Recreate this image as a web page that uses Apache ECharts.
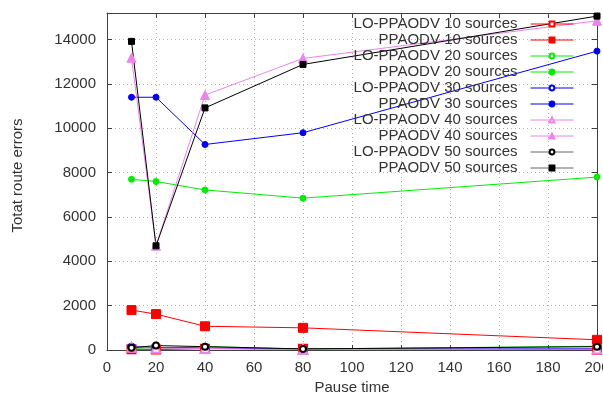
<!DOCTYPE html>
<html>
<head>
<meta charset="utf-8">
<script src="https://cdn.jsdelivr.net/npm/echarts@6/dist/echarts.min.js"></script>
<style>
html,body{margin:0;padding:0;background:#fff;}
#chart{width:603px;height:394px;}
</style>
</head>
<body>
<div id="chart"></div>
<script>
const pauseTimes = [10, 20, 40, 80, 200];
const xTicks = [0, 20, 40, 60, 80, 100, 120, 140, 160, 180, 200];
const yTicks = [0, 2000, 4000, 6000, 8000, 10000, 12000, 14000];

const lo10 = [30, 20, 60, 60, 10];
const pp10 = [1800, 1620, 1070, 1000, 460];
const lo20 = [60, 40, 160, 40, 170];
const pp20 = [7700, 7600, 7220, 6850, 7800];
const lo30 = [150, 110, 90, 30, 60];
const pp30 = [11400, 11400, 9270, 9800, 13480];
const lo40 = [120, 80, 70, 20, 40];
const pp40 = [13180, 4700, 11500, 13150, 14850];
const lo50 = [100, 200, 150, 50, 150];
const pp50 = [13920, 4700, 10920, 12880, 15060];

const seriesNames = [
  'LO-PPAODV 10 sources', 'PPAODV 10 sources',
  'LO-PPAODV 20 sources', 'PPAODV 20 sources',
  'LO-PPAODV 30 sources', 'PPAODV 30 sources',
  'LO-PPAODV 40 sources', 'PPAODV 40 sources',
  'LO-PPAODV 50 sources', 'PPAODV 50 sources'
];
const seriesValues = [lo10, pp10, lo20, pp20, lo30, pp30, lo40, pp40, lo50, pp50];
const seriesColors = ['#ff0000', '#ff0000', '#00ee00', '#00ee00', '#0000ff', '#0000ff', '#ee82ee', '#ee82ee', '#000000', '#000000'];
const legendLineColors = ['#ff0000', '#ff0000', '#00ee00', '#00ee00', '#0000ff', '#0000ff', '#ee82ee', '#ee82ee', '#666666', '#666666'];
const seriesSymbols = ['emptyRect', 'rect', 'emptyCircle', 'circle', 'emptyCircle', 'circle', 'emptyTriangle', 'triangle', 'emptyCircle', 'rect'];
const seriesSymbolSizes = [8, 9, 5, 6, 6, 6, 9, 9, 6, 6];

const FONT = 'Liberation Sans';
const TXT = '#333333';
const FRAME = '#404040';

const chart = echarts.init(document.getElementById('chart'), null, {renderer: 'canvas'});

const series = seriesNames.map((name, i) => ({
  name: name,
  type: 'line',
  data: pauseTimes.map((x, j) => [x, seriesValues[i][j]]),
  symbol: seriesSymbols[i],
  symbolSize: seriesSymbolSizes[i],
  showAllSymbol: true,
  color: seriesColors[i],
  itemStyle: {color: seriesColors[i], borderColor: seriesColors[i], borderWidth: 1},
  lineStyle: {color: seriesColors[i], width: 1},
  animation: false
}));

const frameLine = {show: true, onZero: false, lineStyle: {color: FRAME, width: 1}};
const tick = {show: true, inside: true, length: 5, lineStyle: {color: FRAME}};
const dotted = {show: true, lineStyle: {color: '#b0b0b0', type: [1, 3], width: 1}};

const option = {
  animation: false,
  backgroundColor: '#ffffff',
  textStyle: {fontFamily: FONT},
  grid: {
    left: 107, right: 6, top: 13, bottom: 44,
    outerBoundsMode: 'none',
    containLabel: false
  },
  legend: {
    orient: 'vertical',
    right: 29,
    top: 16,
    padding: 0,
    itemGap: 0,
    itemWidth: 43,
    itemHeight: 6,
    align: 'right',
    data: seriesNames.map((n, i) => ({name: n, lineStyle: {color: legendLineColors[i], width: 1}})),
    textStyle: {
      fontFamily: FONT, fontSize: 15, color: TXT,
      width: 175, align: 'right', lineHeight: 16, padding: [0, 8, 0, 0]
    }
  },
  xAxis: [{
    type: 'value',
    min: xTicks[0], max: xTicks[xTicks.length - 1], interval: 20,
    name: 'Pause time',
    nameLocation: 'middle',
    nameGap: 30,
    nameTextStyle: {fontFamily: FONT, fontSize: 15, color: TXT},
    axisLine: frameLine,
    axisTick: tick,
    axisLabel: {fontFamily: FONT, fontSize: 15, color: TXT, margin: 10},
    splitLine: dotted
  }, {
    type: 'value', position: 'top',
    min: xTicks[0], max: xTicks[xTicks.length - 1], interval: 20,
    axisLine: frameLine,
    axisTick: tick,
    axisLabel: {show: false},
    splitLine: {show: false}
  }],
  yAxis: [{
    type: 'value',
    min: yTicks[0], max: 15200, interval: 2000,
    name: 'Totat route errors',
    nameLocation: 'middle',
    nameGap: 82,
    nameTextStyle: {fontFamily: FONT, fontSize: 15, color: TXT, padding: [0, 0, 0, 12]},
    axisLine: frameLine,
    axisTick: tick,
    axisLabel: {
      fontFamily: FONT, fontSize: 15, color: TXT, margin: 11,
      showMaxLabel: false,
      formatter: v => (yTicks.indexOf(v) >= 0 ? String(v) : '')
    },
    splitLine: dotted
  }, {
    type: 'value', position: 'right',
    min: yTicks[0], max: 15200, interval: 2000,
    axisLine: frameLine,
    axisTick: tick,
    axisLabel: {show: false},
    splitLine: {show: false}
  }],
  series: series
};

chart.setOption(option);
</script>
</body>
</html>
